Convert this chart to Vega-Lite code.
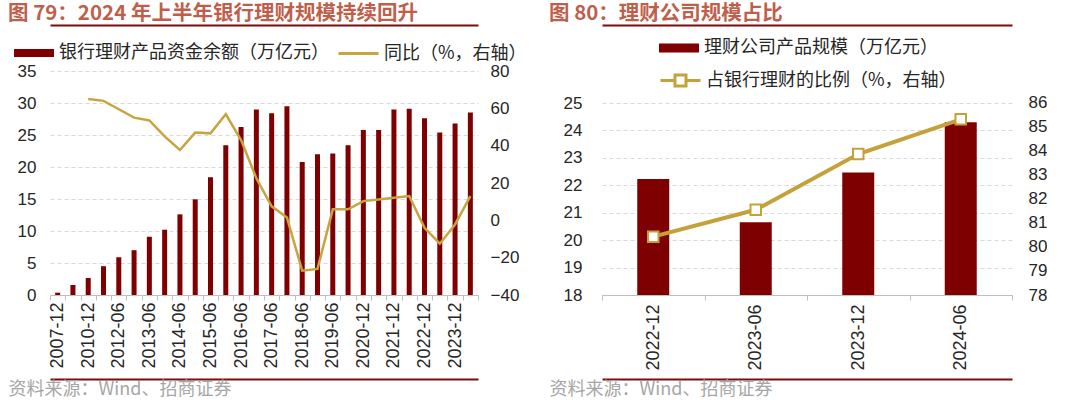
{
  "$schema": "https://vega.github.io/schema/vega-lite/v6.json",
  "background": "white",
  "padding": {"left": 8, "top": 4, "right": 0, "bottom": 0},
  "config": {
    "font": "Liberation Sans",
    "view": {"stroke": null},
    "axis": {"labelFont": "Liberation Sans", "labelColor": "#262626", "titleFont": "Noto Sans CJK SC"},
    "legend": {"labelFont": "Noto Sans CJK SC", "labelFontSize": 18, "labelColor": "#262626", "padding": 0, "labelLimit": 0},
    "title": {"font": "Noto Sans CJK SC", "fontSize": 20.5, "fontWeight": "bold", "color": "#BF5F4B", "anchor": "start", "frame": "bounds", "offset": 0.5}
  },
  "hconcat": [
    {
      "title": {"text": "图 79：2024 年上半年银行理财规模持续回升"},
      "width": 428,
      "height": 224,
      "data": {"values": [
        {"date": "2007-12", "balance": 0.36, "yoy": null},
        {"date": "2009-12", "balance": 1.56, "yoy": null},
        {"date": "2010-12", "balance": 2.66, "yoy": 65},
        {"date": "2011-12", "balance": 4.5, "yoy": 64},
        {"date": "2012-06", "balance": 5.9, "yoy": 59.5},
        {"date": "2012-12", "balance": 7.0, "yoy": 55},
        {"date": "2013-06", "balance": 9.1, "yoy": 53.5},
        {"date": "2013-12", "balance": 10.2, "yoy": 45},
        {"date": "2014-06", "balance": 12.6, "yoy": 37.7},
        {"date": "2014-12", "balance": 14.95, "yoy": 47},
        {"date": "2015-06", "balance": 18.4, "yoy": 46.6},
        {"date": "2015-12", "balance": 23.4, "yoy": 56.8},
        {"date": "2016-06", "balance": 26.25, "yoy": 43},
        {"date": "2016-12", "balance": 29.0, "yoy": 22.5},
        {"date": "2017-06", "balance": 28.4, "yoy": 7.5},
        {"date": "2017-12", "balance": 29.5, "yoy": 1.5},
        {"date": "2018-06", "balance": 20.8, "yoy": -27},
        {"date": "2018-12", "balance": 22.0, "yoy": -26},
        {"date": "2019-06", "balance": 22.1, "yoy": 5.9},
        {"date": "2019-12", "balance": 23.4, "yoy": 5.9},
        {"date": "2020-12", "balance": 25.8, "yoy": 10.3},
        {"date": "2021-06", "balance": 25.8, "yoy": 11.2},
        {"date": "2021-12", "balance": 29.0, "yoy": 12.1},
        {"date": "2022-06", "balance": 29.1, "yoy": 13},
        {"date": "2022-12", "balance": 27.6, "yoy": -4},
        {"date": "2023-06", "balance": 25.4, "yoy": -12.5},
        {"date": "2023-12", "balance": 26.8, "yoy": -2.2},
        {"date": "2024-06", "balance": 28.5, "yoy": 13}
      ]},
      "layer": [
        {
          "mark": {"type": "bar", "size": 5, "color": "#7F0000"},
          "encoding": {
            "x": {"field": "date", "type": "ordinal", "sort": null,
              "scale": {"paddingInner": 0, "paddingOuter": 0},
              "axis": {"title": null, "orient": "bottom", "labelAngle": 270, "labelFontSize": 18, "labelOverlap": false, "labelPadding": 2,
                "labelExpr": "indexof(['2007-12','2010-12','2012-06','2013-06','2014-06','2015-06','2016-06','2017-06','2018-06','2019-06','2020-12','2021-12','2022-12','2023-12'], datum.value) >= 0 ? datum.value : ''",
                "tickBand": "extent", "domainColor": "#BFBFBF", "tickColor": "#BFBFBF", "tickSize": 5}},
            "y": {"field": "balance", "type": "quantitative", "scale": {"domain": [0, 35]},
              "axis": {"title": null, "orient": "left", "values": [0, 5, 10, 15, 20, 25, 30, 35], "grid": true, "gridDash": [4, 3], "gridColor": "#D9D9D9", "domain": false, "ticks": false, "labelFontSize": 17, "labelPadding": 14}},
            "color": {"datum": "银行理财产品资金余额（万亿元）", "scale": {"range": ["#7F0000"]},
              "legend": {"title": null, "orient": "none", "legendX": -27, "legendY": -29, "symbolType": "M-2,-0.4H2V0.4H-2Z", "symbolSize": 400, "labelOffset": 14}}
          }
        },
        {
          "mark": {"type": "line", "strokeWidth": 2.5, "color": "#C8A441"},
          "encoding": {
            "x": {"field": "date", "type": "ordinal", "sort": null,
              "axis": {"title": null, "orient": "top", "labels": false, "ticks": false, "domainColor": "#7A0C0C", "domainWidth": 2, "offset": 46}},
            "y": {"field": "yoy", "type": "quantitative", "scale": {"domain": [-40, 80]},
              "axis": {"title": null, "orient": "right", "values": [-40, -20, 0, 20, 40, 60, 80], "grid": false, "domain": false, "ticks": false, "labelFontSize": 17, "labelPadding": 12}},
            "color": {"datum": "同比（%，右轴）", "scale": {"range": ["#C8A441"]},
              "legend": {"title": null, "orient": "none", "legendX": 297, "legendY": -29, "symbolType": "M-2,0H2", "symbolSize": 400, "symbolStrokeWidth": 3, "labelOffset": 14}}
          }
        },
        {
          "mark": {"type": "point", "opacity": 0},
          "encoding": {
            "x": {"field": "date", "type": "ordinal", "sort": null,
              "axis": {"orient": "bottom", "offset": 84, "labels": false, "ticks": false, "domainColor": "#7A0C0C", "domainWidth": 2,
                "title": "资料来源：Wind、招商证券", "titleAnchor": "start", "titleAlign": "left", "titleX": -42, "titleFontSize": 18, "titleFontWeight": "normal", "titleColor": "#A6A6A6", "titlePadding": 1, "titleBaseline": "top"}}
          }
        }
      ],
      "resolve": {"scale": {"y": "independent", "color": "independent"}, "axis": {"x": "independent", "y": "independent"}, "legend": {"color": "independent"}}
    },
    {
      "title": {"text": "图 80：理财公司规模占比"},
      "width": 410,
      "height": 224,
      "data": {"values": [
        {"date": "2022-12", "scale": 22.23, "ratio": 80.43},
        {"date": "2023-06", "scale": 20.65, "ratio": 81.55},
        {"date": "2023-12", "scale": 22.47, "ratio": 83.87},
        {"date": "2024-06", "scale": 24.3, "ratio": 85.32}
      ]},
      "layer": [
        {
          "mark": {"type": "bar", "size": 32, "color": "#7F0000", "clip": true},
          "encoding": {
            "x": {"field": "date", "type": "ordinal", "sort": null,
              "scale": {"paddingInner": 0, "paddingOuter": 0},
              "axis": {"title": null, "orient": "bottom", "labelAngle": 270, "labelFontSize": 18, "labelPadding": 4,
                "tickBand": "extent", "domainColor": "#BFBFBF", "tickColor": "#BFBFBF", "tickSize": 5}},
            "y": {"field": "scale", "type": "quantitative", "scale": {"domain": [18, 26.167], "zero": false, "nice": false},
              "axis": {"title": null, "orient": "left", "values": [18, 19, 20, 21, 22, 23, 24, 25], "grid": true, "gridDash": [4, 3], "gridColor": "#D9D9D9", "domain": false, "ticks": false, "labelFontSize": 17, "labelPadding": 20}},
            "color": {"datum": "理财公司产品规模（万亿元）", "scale": {"range": ["#7F0000"]},
              "legend": {"title": null, "orient": "none", "legendX": 66, "legendY": -34, "symbolType": "M-2,-0.45H2V0.45H-2Z", "symbolSize": 400, "labelOffset": 14}}
          }
        },
        {
          "mark": {"type": "line", "strokeWidth": 4, "color": "#C4A13A"},
          "encoding": {
            "x": {"field": "date", "type": "ordinal", "sort": null,
              "axis": {"title": null, "orient": "top", "labels": false, "ticks": false, "domainColor": "#7A0C0C", "domainWidth": 2, "offset": 46}},
            "y": {"field": "ratio", "type": "quantitative", "scale": {"domain": [78, 87.333], "zero": false, "nice": false},
              "axis": {"title": null, "orient": "right", "values": [78, 79, 80, 81, 82, 83, 84, 85, 86], "grid": false, "domain": false, "ticks": false, "labelFontSize": 17, "labelPadding": 16}},
            "color": {"datum": "占银行理财的比例（%，右轴）", "scale": {"range": ["#C4A13A"]},
              "legend": {"title": null, "orient": "none", "legendX": 67, "legendY": -2, "symbolType": "M-2,0H-0.55M0.55,0H2M-0.55,-0.55H0.55V0.55H-0.55Z", "symbolSize": 400, "labelOffset": 14,
                "encode": {"symbols": {"update": {"fill": {"value": "white"}, "stroke": {"value": "#C4A13A"}, "strokeWidth": {"value": 3}}}}}}
          }
        },
        {
          "mark": {"type": "point", "shape": "square", "size": 110, "filled": true, "fill": "white", "stroke": "#C4A13A", "strokeWidth": 2, "opacity": 1},
          "encoding": {
            "x": {"field": "date", "type": "ordinal", "sort": null,
              "axis": {"orient": "bottom", "offset": 84, "labels": false, "ticks": false, "domainColor": "#7A0C0C", "domainWidth": 2,
                "title": "资料来源：Wind、招商证券", "titleAnchor": "start", "titleAlign": "left", "titleX": -53, "titleFontSize": 18, "titleFontWeight": "normal", "titleColor": "#A6A6A6", "titlePadding": 1, "titleBaseline": "top"}},
            "y": {"field": "ratio", "type": "quantitative", "scale": {"domain": [78, 87.333], "zero": false, "nice": false}, "axis": null}
          }
        }
      ],
      "resolve": {"scale": {"y": "independent", "color": "independent"}, "axis": {"x": "independent", "y": "independent"}, "legend": {"color": "independent"}}
    }
  ],
  "align": "none",
  "spacing": 22
}
